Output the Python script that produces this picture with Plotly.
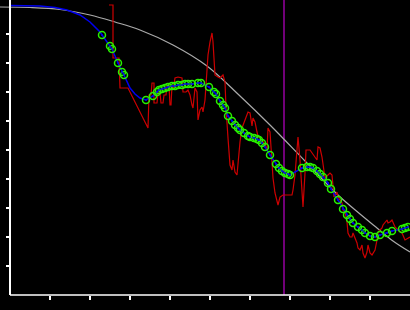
import plotly.graph_objects as go

# ---- data (arbitrary units; x = time, y = level) ----
model_x = [-10, 20, 50, 80, 105, 130, 163, 197, 230, 260, 295, 328, 350, 367, 383, 400]
model_y = [288, 287.5, 285.5, 280, 273, 265, 250, 229, 199, 170, 134, 100, 81, 67, 54, 43]

lead_x = [0, 15, 30, 45, 57, 70, 80, 90, 120, 125, 130]
lead_y = [289.5, 289.5, 289, 287.5, 285, 280, 273, 263, 207, 201, 197]

pick_x = [92, 100, 102, 108, 112, 114,
          136, 143, 147, 149, 152, 155, 158, 162, 165, 168, 172, 175, 178, 182, 188, 191,
          199, 204, 206, 210, 213, 215, 218, 222, 225, 228, 230, 234, 238, 240, 244, 247, 249,
          252, 255, 260, 266, 269, 272, 275, 278, 280,
          292, 297, 300, 303, 307, 310, 313, 318, 321, 328, 333, 337, 340, 343, 348, 352, 355,
          360, 365, 370, 377, 382, 392, 395, 398]
pick_y = [260, 249, 246, 232, 223, 220,
          195, 199, 203, 205, 206, 207, 208, 209, 209, 210, 210, 211, 211, 211, 212, 212,
          208, 203, 201, 194, 190, 187, 179, 174, 170, 167, 165, 162, 159, 158, 157, 156, 155,
          152, 148, 140, 131, 127, 124, 122, 121, 120,
          127, 128, 128, 127, 124, 121, 118, 112, 106, 95, 86, 80, 76, 72, 68, 65, 62,
          59, 58, 60, 62, 64, 66, 67, 68]

raw_x = [99, 103, 103, 109, 110, 118, 138, 139, 141, 142, 144, 144, 147, 148, 150, 151, 153, 154, 156, 157,
         159, 160, 161, 162, 163, 165, 168, 172, 173, 176, 178, 180, 182, 183, 185, 187, 188, 190, 192, 193,
         195, 197, 198, 200, 202, 203, 204, 205, 208, 210, 213, 215, 216, 217, 218, 220, 222, 223, 225, 227,
         228, 230, 232, 233, 237, 238, 240, 242, 243, 245, 247, 248, 250, 252, 255, 257, 258, 260, 262, 263,
         265, 267, 268, 270, 273, 282, 283, 285, 287, 288, 290, 292, 293, 295, 296, 300, 302, 307, 308, 310,
         312, 313, 315, 318, 320, 322, 323, 324, 327, 328, 330, 332, 333, 335, 337, 338, 340, 342, 343, 345,
         347, 348, 350, 352, 353, 355, 357, 358, 360, 362, 363, 365, 367, 368, 370, 372, 373, 375, 377, 378,
         380, 382, 383, 385, 388, 392, 395, 400]
raw_y = [290, 290, 237, 237, 207, 207, 167, 200, 200, 212, 212, 192, 192, 202, 202, 192, 192, 200, 200, 210,
         210, 190, 190, 210, 205, 217, 218, 217, 203, 203, 205, 200, 190, 187, 207, 203, 175, 185, 188, 183,
         195, 227, 240, 253, 262, 253, 237, 220, 218, 217, 220, 213, 187, 163, 157, 130, 125, 135, 123, 120,
         133, 153, 167, 170, 180, 183, 182, 169, 177, 173, 163, 159, 157, 155, 150, 145, 167, 163, 133, 117,
         102, 95, 90, 98, 100, 100, 105, 120, 145, 158, 135, 95, 88, 122, 145, 145, 142, 135, 148, 147,
         138, 132, 117, 120, 122, 120, 108, 98, 103, 98, 95, 92, 85, 83, 73, 62, 58, 58, 62, 57,
         52, 47, 45, 50, 42, 37, 43, 50, 42, 40, 42, 45, 55, 62, 65, 67, 70, 73, 75, 72,
         73, 75, 72, 68, 65, 62, 55, 58]

event_x = [274]

x_ticks = [40, 80, 120, 160, 200, 240, 280, 320, 360]
y_ticks = [29, 58, 87, 116, 145, 174, 203, 232, 261]

# full smoothed line = lead points + picked points, ordered by x
line_pts = sorted(zip(lead_x + pick_x, lead_y + pick_y))
line_x = [p[0] for p in line_pts]
line_y = [p[1] for p in line_pts]

fig = go.Figure()
fig.add_trace(go.Scatter(x=model_x, y=model_y, mode="lines", line_shape="spline",
                         line=dict(color="rgb(170,170,170)", width=1.2), hoverinfo="skip"))
fig.add_trace(go.Scatter(x=raw_x, y=raw_y, mode="lines",
                         line=dict(color="rgb(205,0,0)", width=1.2)))
fig.add_trace(go.Scatter(x=line_x, y=line_y, mode="lines",
                         line=dict(color="rgb(0,0,240)", width=1.5)))
fig.add_trace(go.Scatter(x=pick_x, y=pick_y, mode="markers",
                         marker=dict(symbol="circle-open", size=7,
                                     color="rgb(40,240,0)", line=dict(width=1.5, color="rgb(40,240,0)"))))
fig.add_trace(go.Scatter(x=pick_x, y=pick_y, mode="markers",
                         marker=dict(symbol="circle", size=2, color="rgb(0,0,240)")))
fig.add_vline(x=event_x[0], line=dict(color="rgb(150,0,160)", width=1.5), layer="below")

fig.add_shape(type="line", xref="paper", yref="paper", x0=10 / 410, x1=1, y0=0, y1=0,
              line=dict(color="white", width=1.5))

fig.update_layout(
    width=410, height=310,
    margin=dict(l=0, r=0, t=0, b=15),
    paper_bgcolor="black", plot_bgcolor="black",
    showlegend=False,
    xaxis=dict(range=[-10, 400], showgrid=False, zeroline=False, showline=False,
               ticks="outside", tickvals=x_ticks, ticklen=4, tickwidth=1.5, tickcolor="white",
               showticklabels=False),
    yaxis=dict(range=[0, 295], anchor="free", position=10 / 410, showgrid=False, zeroline=False,
               showline=True, linecolor="white", linewidth=1.5,
               ticks="outside", tickvals=y_ticks, ticklen=3, tickwidth=1.5, tickcolor="white",
               showticklabels=False),
)

fig.write_html("out.html")
